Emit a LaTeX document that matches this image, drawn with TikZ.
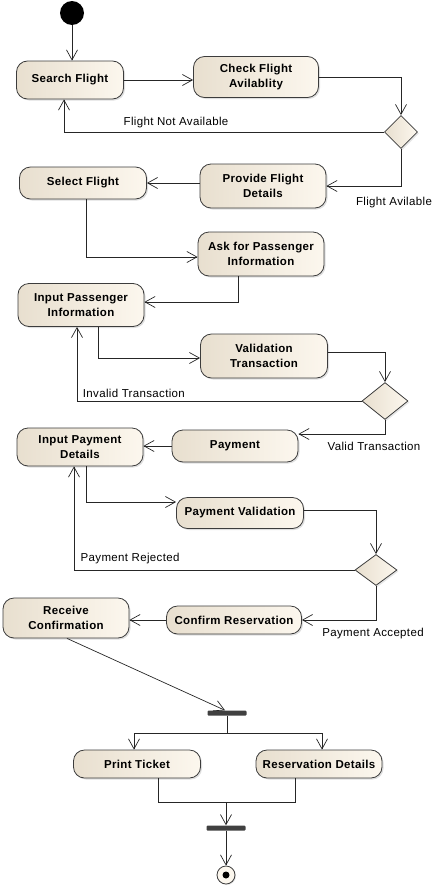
\documentclass[tikz,border=0pt]{standalone}
\usepackage{fontspec}
\setmainfont[LetterSpace=3]{Liberation Sans}
\usetikzlibrary{arrows.meta,shapes.geometric,shadows}

\definecolor{actleft}{HTML}{E8DFCF}
\definecolor{actright}{HTML}{FCF7EE}
\definecolor{actline}{HTML}{3C3C3C}
\definecolor{barfill}{HTML}{404040}

\tikzset{
  act/.style={rectangle, rounded corners=11pt, draw=actline, line width=0.8pt,
    left color=actleft, right color=actright,
    drop shadow={opacity=0.25, shadow xshift=1.5pt, shadow yshift=-1.5pt},
    align=center, inner sep=0pt, font=\fontsize{11.5}{15}\selectfont\bfseries},
  boxsize/.style 2 args={minimum width=#1pt, minimum height=#2pt},
  choice/.style={diamond, draw=actline, line width=0.8pt, inner sep=0pt,
    left color=actleft, right color=actright,
    drop shadow={opacity=0.2, shadow xshift=1.5pt, shadow yshift=-1.5pt}},
  bar/.style={rectangle, fill=barfill, rounded corners=1pt, inner sep=0pt,
    minimum width=39pt, minimum height=5pt},
  startdot/.style={circle, fill=black, inner sep=0pt, minimum size=24pt},
  enddot/.style={circle, draw=actline, line width=0.8pt, fill=actright, inner sep=0pt,
    minimum size=18pt, drop shadow={opacity=0.2, shadow xshift=1pt, shadow yshift=-1pt},
    path picture={\fill[black] (path picture bounding box.center) circle (3.5pt);}},
  plain/.style={draw=black!85, line width=0.7pt},
  flow/.style={plain, -{Straight Barb[length=10pt, width=11pt]}},
  guard/.style={font=\fontsize{11.5}{13}\selectfont}
}

\begin{document}
\begin{tikzpicture}[x=1pt, y=-1pt]
\useasboundingbox (0,0) rectangle (434,889);
% actions
\begin{scope}[every node/.style={act}]
\node[boxsize={107}{38}] (search) at (70,80) {Search Flight};
\node[boxsize={125}{41}] (check) at (256,77) {Check Flight\\Avilablity};
\node[boxsize={126}{44}] (provide) at (263,186) {Provide Flight\\Details};
\node[boxsize={127}{32}] (select) at (83,183) {Select Flight};
\node[boxsize={126}{44}] (ask) at (261,254) {Ask for Passenger\\Information};
\node[boxsize={126}{43}] (inpass) at (81,305) {Input Passenger\\Information};
\node[boxsize={127}{44}] (valid) at (264,356) {Validation\\Transaction};
\node[boxsize={126}{32}] (payment) at (235,446) {Payment};
\node[boxsize={126}{38}] (inpay) at (80,447) {Input Payment\\Details};
\node[boxsize={127}{31}] (pval) at (240,513) {Payment Validation};
\node[boxsize={135}{28}] (confirm) at (234,620) {Confirm Reservation};
\node[boxsize={126}{40}] (receive) at (66,618) {Receive\\Confirmation};
\node[boxsize={127}{28}] (print) at (137,764) {Print Ticket};
\node[boxsize={126}{28}] (resv) at (319,764) {Reservation Details};
\end{scope}
% decisions, start, bars, end
\node[choice, boxsize={33}{33}] (d1) at (401,132) {};
\node[choice, boxsize={46}{37}] (d2) at (385,401) {};
\node[choice, boxsize={42}{31}] (d3) at (376,570) {};
\node[startdot] (start) at (72,13) {};
\node[bar] (fork) at (227,713) {};
\node[bar] (join) at (226,828) {};
\node[enddot] (stop) at (226,875) {};
\coordinate (split) at (227,733);
\coordinate (merge) at (226,802);
% flows
\draw[flow] (start.south) -- (start |- search.north);
\draw[flow] (search.east) -- (check.west |- search.east);
\draw[flow] (check.east) -| (d1.north);
\draw[flow] (d1.west) -| node[guard, pos=0.325, above] {Flight Not Available} ([xshift=-6pt]search.south);
\draw[flow] (d1.south) |- node[guard, pos=0.5, anchor=north, xshift=-7pt, yshift=-7pt] {Flight Avilable} (provide.east);
\draw[flow] (provide.west |- select.east) -- (select.east);
\draw[flow] ([xshift=3pt]select.south) |- ([yshift=-3pt]ask.west);
\draw[flow] ([xshift=-23pt]ask.south) |- ([yshift=3pt]inpass.east);
\draw[flow] ([xshift=17pt]inpass.south) |- ([yshift=-2pt]valid.west);
\draw[flow] ([yshift=4pt]valid.east) -| (d2.north);
\draw[flow] (d2.west) -| node[guard, pos=0.40, above] {Invalid Transaction} ([xshift=-4pt]inpass.south);
\draw[flow] (d2.south) |- node[guard, pos=0.5, anchor=north, xshift=-11pt, yshift=-4pt] {Valid Transaction} ([yshift=12pt]payment.east);
\draw[flow] (payment.west) -- (inpay.east |- payment.west);
\draw[flow] ([xshift=6pt]inpay.south) |- ([yshift=11pt]pval.west);
\draw[flow] ([yshift=3pt]pval.east) -| (d3.north);
\draw[flow] (d3.west) -| node[guard, pos=0.40, above, yshift=2pt] {Payment Rejected} ([xshift=-6pt]inpay.south);
\draw[flow] (d3.south) |- node[guard, pos=0.5, anchor=north, xshift=-3pt, yshift=-4pt] {Payment Accepted} (confirm.east);
\draw[flow] (confirm.west) -- (receive.east |- confirm.west);
\draw[flow] ([xshift=1pt]receive.south) -- ([xshift=-2pt]fork.north);
\draw[plain] (fork.south) -- (split);
\draw[flow] (split) -| ([xshift=-3pt]print.north);
\draw[flow] (split) -| ([xshift=3pt]resv.north);
\draw[plain] ([xshift=21pt]print.south) |- (merge);
\draw[plain] ([xshift=-24pt]resv.south) |- (merge);
\draw[flow] (merge) -- (merge |- join.north);
\draw[flow] (join.south) -- (join.south |- stop.north);
\end{tikzpicture}
\end{document}
